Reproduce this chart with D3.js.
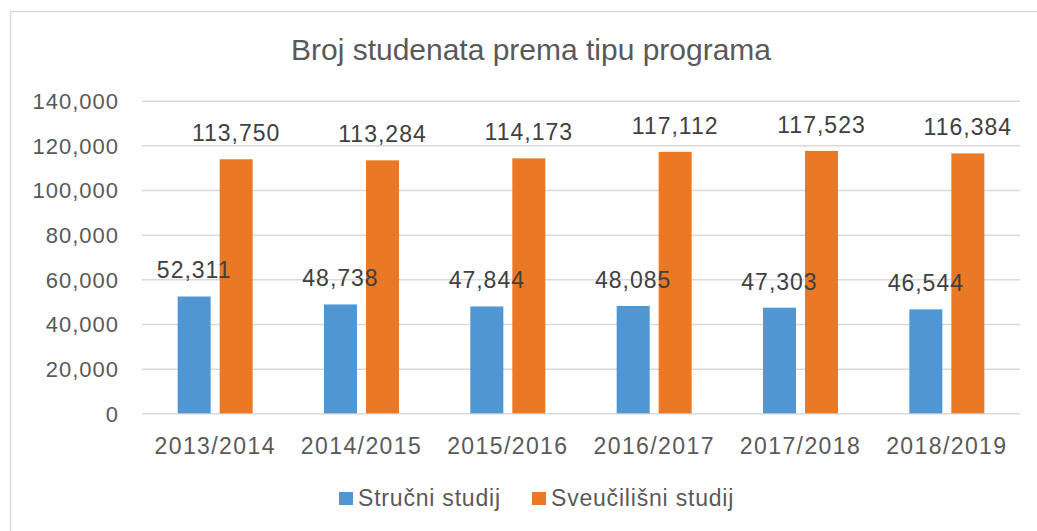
<!DOCTYPE html>
<html>
<head>
<meta charset="utf-8">
<script src="https://cdn.jsdelivr.net/npm/d3@7"></script>
<style>
  body { margin: 0; background: #fff; }
  text { font-family: "Liberation Sans", Arial, sans-serif; }
</style>
</head>
<body>
<div id="chart"></div>
<script>
const categories = ['2013/2014', '2014/2015', '2015/2016', '2016/2017', '2017/2018', '2018/2019']
const seriesNames = ['Stručni studij', 'Sveučilišni studij']
const strucni = [52311, 48738, 47844, 48085, 47303, 46544]
const sveucilisni = [113750, 113284, 114173, 117112, 117523, 116384]
const yTicks = [0, 20000, 40000, 60000, 80000, 100000, 120000, 140000]
const colors = ['#5096d2', '#ea7824']

const width = 1037, height = 531
const plotLeft = 142, plotRight = 1020, plotTop = 100.7, plotBottom = 413.3

const svg = d3.select('#chart').append('svg')
	.attr('width', width)
	.attr('height', height)

// outer frame
svg.append('rect')
	.attr('x', 10.5).attr('y', 11.5)
	.attr('width', 1040).attr('height', 540)
	.attr('fill', 'none')
	.attr('stroke', '#d9d9d9')
	.attr('stroke-width', 1.5)

svg.append('text')
	.attr('x', 531).attr('y', 60)
	.attr('text-anchor', 'middle')
	.attr('font-size', 29)
	.attr('fill', '#595959')
	.attr('textLength', 480)
	.attr('lengthAdjust', 'spacingAndGlyphs')
	.text('Broj studenata prema tipu programa')

const y = d3.scaleLinear().domain([0, 140000]).range([plotBottom, plotTop])
const x0 = d3.scaleBand().domain(categories).range([plotLeft, plotRight])
const x1 = d3.scaleBand().domain(seriesNames).range([0, 75]).paddingInner(9 / 42)
const groupOffset = x0.bandwidth() / 2 - 37.5

// gridlines + y labels
const yAxis = svg.append('g')
	.attr('transform', `translate(${plotLeft},0)`)
	.call(d3.axisLeft(y).tickValues(yTicks).tickSize(-(plotRight - plotLeft)).tickPadding(23)
		.tickFormat(d3.format(',')))
yAxis.select('.domain').remove()
yAxis.selectAll('line').attr('stroke', '#d9d9d9').attr('stroke-width', 1.5)
yAxis.selectAll('text')
	.attr('font-size', 22)
	.attr('fill', '#595959')
	.attr('letter-spacing', 1)
	.attr('dy', '0.36em')

// x labels
svg.append('g').selectAll('text')
	.data(categories)
	.join('text')
	.attr('x', d => x0(d) + x0.bandwidth() / 2)
	.attr('y', 454)
	.attr('text-anchor', 'middle')
	.attr('font-size', 23)
	.attr('letter-spacing', 1.4)
	.attr('fill', '#595959')
	.text(d => d)

const allSeries = [strucni, sveucilisni]
const barX = (i, s) => x0(categories[i]) + groupOffset + x1(seriesNames[s])

// bars first, then all value labels on top
allSeries.forEach((vals, s) => {
	svg.append('g').selectAll('rect')
		.data(vals)
		.join('rect')
		.attr('x', (d, i) => barX(i, s))
		.attr('y', d => y(d))
		.attr('width', x1.bandwidth())
		.attr('height', d => y(0) - y(d))
		.attr('fill', colors[s])
})

allSeries.forEach((vals, s) => {
	svg.append('g').selectAll('text')
		.data(vals)
		.join('text')
		.attr('x', (d, i) => barX(i, s) + x1.bandwidth() / 2)
		.attr('y', d => y(d) - 18)
		.attr('text-anchor', 'middle')
		.attr('font-size', 23)
		.attr('letter-spacing', 1)
		.attr('fill', '#404040')
		.text(d => d3.format(',')(d))
})

// legend
const legendX = [339, 532]
const legend = svg.append('g')
seriesNames.forEach((name, i) => {
	legend.append('rect')
		.attr('x', legendX[i]).attr('y', 492)
		.attr('width', 14).attr('height', 13)
		.attr('fill', colors[i])
	legend.append('text')
		.attr('x', legendX[i] + 19).attr('y', 506)
		.attr('font-size', 23)
		.attr('letter-spacing', 0.8)
		.attr('fill', '#595959')
		.text(name)
})
</script>
</body>
</html>
